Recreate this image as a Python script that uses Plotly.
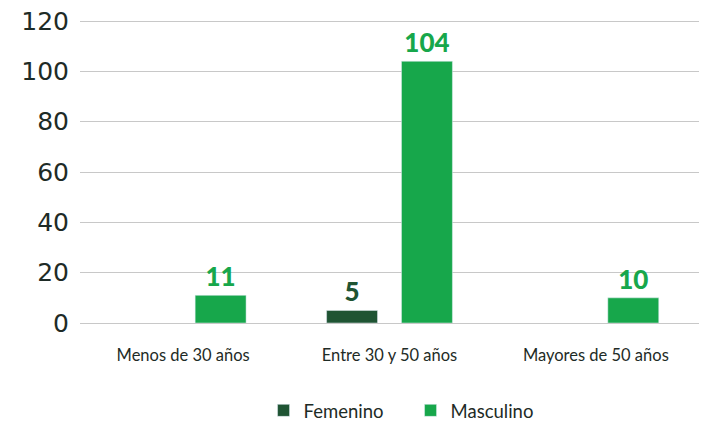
import plotly.graph_objects as go

categories = ["Menos de 30 años", "Entre 30 y 50 años", "Mayores de 50 años"]
femenino = [None, 5, None]
masculino = [11, 104, 10]
y_ticks = [0, 20, 40, 60, 80, 100, 120]

label_font = "Lato"

fig = go.Figure()
fig.add_trace(go.Bar(
    name="Femenino", x=categories, y=femenino, marker_color="#1f5433",
    text=[("" if v is None else str(v)) for v in femenino], textposition="outside",
    textfont=dict(family=label_font, size=26, color="#1f5433", weight=900),
    cliponaxis=False,
))
fig.add_trace(go.Bar(
    name="Masculino", x=categories, y=masculino, marker_color="#17a74b",
    text=[str(v) for v in masculino], textposition="outside",
    textfont=dict(family=label_font, size=26, color="#17a74b", weight=900),
    cliponaxis=False,
))

fig.update_layout(
    width=707, height=422,
    margin=dict(l=80, r=8, t=18, b=99, autoexpand=False),
    paper_bgcolor="white", plot_bgcolor="white",
    barmode="group", bargap=0.274, bargroupgap=0.32,
    font=dict(family="Lato", color="#1e2b26"),
    showlegend=True,
    legend=dict(orientation="h", x=0.534, xanchor="center", y=-0.288, yanchor="middle",
                font=dict(size=18.5, family="Lato", color="#1e2b26"),
                entrywidth=102, tracegroupgap=0),
    xaxis=dict(tickfont=dict(size=16.5, family="Lato", color="#1e2b26"), showline=False,
               ticks="", ticklabelstandoff=20, automargin=False),
    yaxis=dict(range=[0, 121.2], tickvals=y_ticks, showgrid=True, gridcolor="#c8c8c8",
               gridwidth=1, zeroline=True, zerolinecolor="#c8c8c8", zerolinewidth=1,
               tickfont=dict(size=25, family="DejaVu Sans", color="#1e2b26"),
               ticks="", ticklabelstandoff=10, automargin=False),
)

fig.write_html("out.html", config={"displayModeBar": False},
               post_script="document.body.style.margin='0';")
